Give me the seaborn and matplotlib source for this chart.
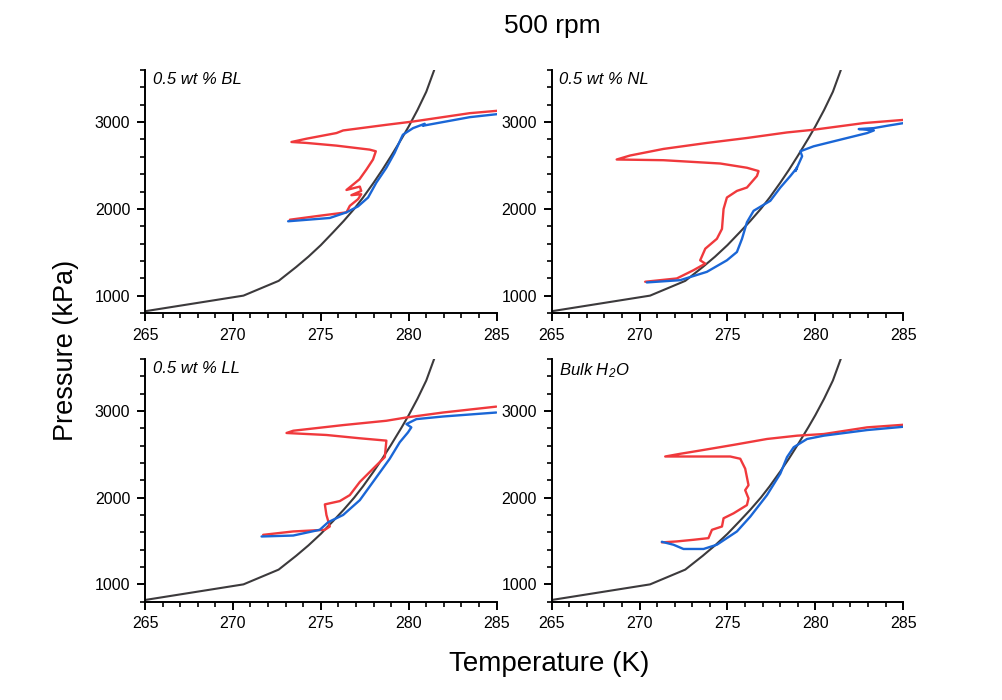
import numpy as np
import pandas as pd
import matplotlib
matplotlib.use("Agg")
import matplotlib.pyplot as plt
from matplotlib.ticker import MultipleLocator
import seaborn as sns

sns.set_style("ticks")
plt.rcParams['font.family'] = ['Liberation Sans', 'DejaVu Sans']
plt.rcParams['mathtext.fontset'] = 'custom'
plt.rcParams['mathtext.it'] = 'Liberation Sans:italic'
plt.rcParams['mathtext.rm'] = 'Liberation Sans:italic'
plt.rcParams['text.color'] = 'black'
plt.rcParams['axes.labelcolor'] = 'black'

# ---- Equilibrium curve (same in all panels) ----
eq_T = [265.0, 270.6, 272.6, 273.6, 274.3, 275.0, 275.7, 276.3, 276.9, 277.4, 278.0,
        278.5, 279.0, 279.6, 280.0, 280.5, 281.0, 281.45]
eq_P = [820, 1000, 1170, 1330, 1450, 1582, 1730, 1860, 2000, 2130, 2300,
        2450, 2610, 2810, 2950, 3140, 3350, 3600]

# ---- 0.5 wt % BL ----
bl_red_T = [285.17, 283.47, 280.25, 278.73, 276.27, 275.89, 274.19, 273.33, 274.19, 275.89,
            277.78, 278.13, 277.97, 277.6, 277.2, 276.74, 276.46, 277.22, 277.3, 276.74,
            277.3, 277.12, 276.65, 276.46, 274.94, 273.24]
bl_red_P = [3133, 3103, 3007, 2969, 2904, 2874, 2809, 2771, 2760, 2729,
            2683, 2664, 2569, 2455, 2341, 2264, 2218, 2257, 2207, 2158,
            2169, 2112, 2035, 1960, 1921, 1875]
bl_blue_T = [273.14, 275.51, 276.46, 277.12, 277.69, 278.16, 278.73, 279.2, 279.58, 279.67,
             280.25, 280.91, 280.8, 283.47, 285.17]
bl_blue_P = [1857, 1895, 1960, 2029, 2131, 2303, 2474, 2646, 2817, 2855,
             2931, 2981, 2958, 3057, 3095]

# ---- 0.5 wt % NL ----
nl_red_T = [285.03, 282.76, 279.9, 278.39, 276.11, 273.83, 271.36, 269.46, 268.7, 271.36,
            274.59, 276.11, 276.77, 276.68, 276.11, 275.54, 274.97, 274.78, 274.69, 274.4,
            273.74, 273.45, 273.74, 273.07, 272.12, 270.32]
nl_red_P = [3026, 2989, 2912, 2881, 2817, 2760, 2691, 2615, 2569, 2561,
            2523, 2474, 2436, 2379, 2246, 2207, 2131, 1998, 1769, 1655,
            1541, 1407, 1369, 1293, 1198, 1160]
nl_blue_T = [270.41, 272.31, 273.83, 274.97, 275.54, 275.83, 276.11, 276.49, 277.44, 278.01,
             278.58, 278.96, 278.87, 279.25, 279.15, 279.9, 281.43, 282.95, 283.33, 282.47,
             283.33, 284.09, 285.03]
nl_blue_P = [1152, 1178, 1274, 1407, 1503, 1655, 1846, 1978, 2093, 2246,
             2379, 2474, 2436, 2607, 2664, 2721, 2798, 2874, 2904, 2920,
             2931, 2958, 2989]

# ---- 0.5 wt % LL ----
ll_red_T = [284.98, 281.95, 279.87, 278.73, 276.27, 273.43, 273.05, 275.32, 277.22, 278.73,
            278.64, 278.16, 277.22, 276.65, 276.08, 275.23, 275.32, 275.51, 275.23, 273.43,
            271.72]
ll_red_P = [3049, 2981, 2924, 2886, 2836, 2771, 2745, 2722, 2684, 2657,
            2467, 2371, 2181, 2029, 1960, 1922, 1800, 1667, 1629, 1610,
            1571]
ll_blue_T = [271.63, 273.43, 274.94, 275.42, 276.27, 277.22, 277.97, 278.92, 279.49, 279.96,
             280.15, 279.87, 280.44, 281.95, 284.98]
ll_blue_P = [1552, 1563, 1629, 1717, 1800, 1971, 2181, 2448, 2638, 2752,
             2810, 2848, 2905, 2935, 2981]

# ---- Bulk H2O ----
bw_red_T = [285.03, 282.95, 280.48, 278.96, 277.25, 275.35, 273.45, 272.31, 271.46, 273.45,
            275.16, 275.73, 276.01, 276.2, 276.01, 276.2, 276.11, 275.35, 274.78, 274.69,
            274.12, 273.92, 273.07, 272.12, 271.27]
bw_red_P = [2840, 2810, 2733, 2714, 2676, 2608, 2543, 2505, 2474, 2474,
            2474, 2448, 2334, 2143, 2086, 1991, 1914, 1819, 1762, 1667,
            1629, 1533, 1514, 1495, 1484]
bw_blue_T = [271.27, 271.93, 272.5, 273.64, 274.4, 275.54, 276.3, 277.25, 278.01, 278.39,
             278.77, 279.53, 280.48, 282.95, 285.03]
bw_blue_P = [1491, 1457, 1408, 1408, 1457, 1610, 1781, 2029, 2277, 2467,
             2581, 2676, 2714, 2779, 2817]

panel_labels = ["0.5 wt % BL", "0.5 wt % NL", "0.5 wt % LL", "Bulk H$_2$O"]
panels = [
    (bl_red_T, bl_red_P, bl_blue_T, bl_blue_P),
    (nl_red_T, nl_red_P, nl_blue_T, nl_blue_P),
    (ll_red_T, ll_red_P, ll_blue_T, ll_blue_P),
    (bw_red_T, bw_red_P, bw_blue_T, bw_blue_P),
]
x_ticks = [265, 270, 275, 280, 285]
y_ticks = [1000, 2000, 3000]

RED = "#F0393C"
BLUE = "#1A66D6"
GREY = "#3C3A3C"

fig = plt.figure(figsize=(10.03, 7.0), dpi=100)
fig.patch.set_facecolor("white")

W = 0.3505
H = 0.347
positions = [
    (0.1446, 0.5529),
    (0.5500, 0.5529),
    (0.1446, 0.1404),
    (0.5500, 0.1404),
]

eq_df = pd.DataFrame({"T": eq_T, "P": eq_P})

for i, ((rT, rP, bT, bP), (lx, ly)) in enumerate(zip(panels, positions)):
    ax = fig.add_axes([lx, ly, W, H])
    red_df = pd.DataFrame({"T": rT, "P": rP})
    blue_df = pd.DataFrame({"T": bT, "P": bP})
    sns.lineplot(data=eq_df, x="T", y="P", sort=False, estimator=None, ax=ax,
                 color=GREY, linewidth=1.5)
    sns.lineplot(data=red_df, x="T", y="P", sort=False, estimator=None, ax=ax,
                 color=RED, linewidth=1.7)
    sns.lineplot(data=blue_df, x="T", y="P", sort=False, estimator=None, ax=ax,
                 color=BLUE, linewidth=1.7)
    ax.set_xlim(265, 285)
    ax.set_ylim(800, 3600)
    ax.set_xticks(x_ticks)
    ax.set_yticks(y_ticks)
    ax.xaxis.set_minor_locator(MultipleLocator(1))
    ax.yaxis.set_minor_locator(MultipleLocator(200))
    ax.set_xlabel("")
    ax.set_ylabel("")
    for s in ["top", "right"]:
        ax.spines[s].set_visible(False)
    for s in ["left", "bottom"]:
        ax.spines[s].set_linewidth(1.4)
        ax.spines[s].set_color("black")
    ax.tick_params(which="major", direction="out", length=6, width=1.4,
                   labelsize=11.5, colors="black", labelcolor="black", pad=4.5)
    ax.tick_params(which="minor", direction="out", length=3.5, width=1.2, colors="black")
    ax.set_facecolor("white")
    ax.text(0.022, 0.99, panel_labels[i], transform=ax.transAxes, ha="left", va="top",
            fontsize=12, fontstyle="italic", color="black")

fig.text(0.551, 0.963, "500 rpm", ha="center", va="center", fontsize=19, color="black")
fig.text(0.548, 0.052, "Temperature (K)", ha="center", va="center", fontsize=20, color="black")
fig.text(0.066, 0.5, "Pressure (kPa)", ha="center", va="center", fontsize=19.5,
         rotation=90, color="black")

fig.savefig("out.png", dpi=100, facecolor="white")
